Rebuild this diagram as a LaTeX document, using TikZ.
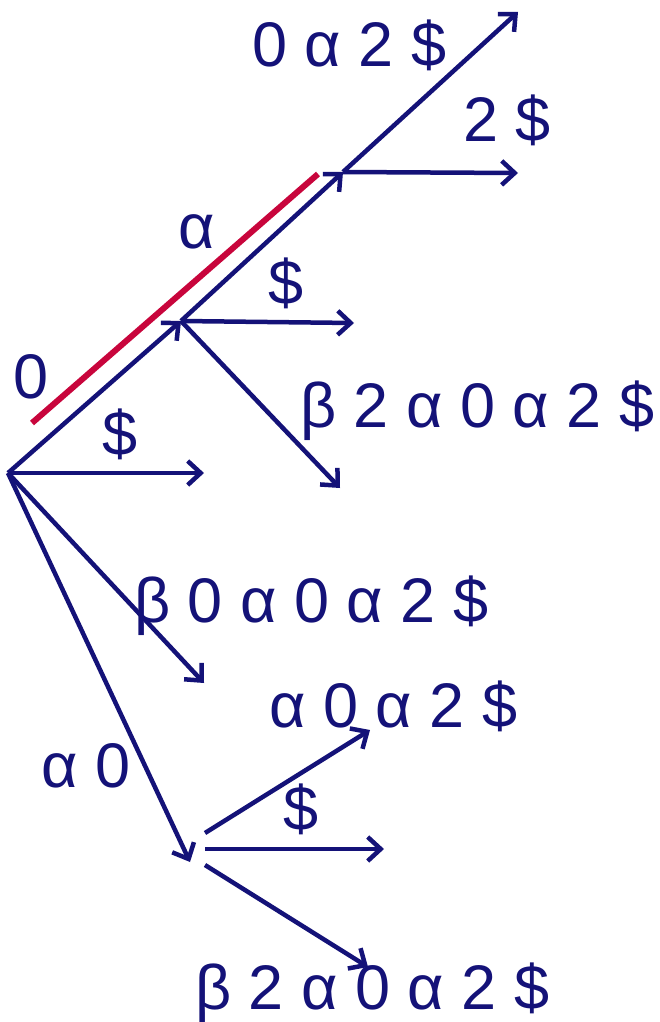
\documentclass[tikz,border=0pt]{standalone}
\usepackage{fontspec}
\setmainfont{Liberation Sans}
\usetikzlibrary{arrows.meta}
\definecolor{navy}{RGB}{20,18,120}
\definecolor{crimson}{RGB}{200,5,60}
\begin{document}
\begin{tikzpicture}[x=1pt,y=-1pt,
  edge/.style={draw=navy, line width=4.5pt, -{Straight Barb[length=13pt,width=24pt]}},
  lbl/.style={anchor=base west, inner sep=0pt, text=navy, font=\fontsize{63}{70}\selectfont}]
\useasboundingbox (0,0) rectangle (659,1022);
% nodes (branch points) and arrow ends
\coordinate (R) at (8,473);
\coordinate (A) at (181,321);
\coordinate (B) at (343,172);
\coordinate (T) at (518,12);
\coordinate (Bh) at (518,173);
\coordinate (Ah) at (354,323);
\coordinate (Ad) at (340,488);
\coordinate (Rh) at (204,473);
\coordinate (Rd) at (204,683);
\coordinate (C) at (190,862);
\coordinate (C1) at (205,833);
\coordinate (C2) at (205,849);
\coordinate (C3) at (205,865);
\coordinate (C1e) at (370,730);
\coordinate (C2e) at (384,849);
\coordinate (C3e) at (368,967);
\coordinate (P1) at (32,423);
\coordinate (P2) at (318,174);
% highlighted path
\draw[crimson, line width=6pt] (P1) -- (P2);
% edges
\draw[edge] (R) -- (A);
\draw[edge] (A) -- (B);
\draw[edge] (B) -- (T);
\draw[edge] (B) -- (Bh);
\draw[edge] (A) -- (Ah);
\draw[edge] (A) -- (Ad);
\draw[edge] (R) -- (Rh);
\draw[edge] (R) -- (Rd);
\draw[edge] (R) -- (C);
\draw[edge] (C1) -- (C1e);
\draw[edge] (C2) -- (C2e);
\draw[edge] (C3) -- (C3e);
% labels
\node[lbl] (l1) at (252,67) {0 α 2 \$};
\node[lbl] (l2) at (463,142) {2 \$};
\node[lbl] (l3) at (178,248) {α};
\node[lbl] (l4) at (268,304) {\$};
\node[lbl] (l5) at (13,398) {0};
\node[lbl] (l6) at (300,427) {β 2 α 0 α 2 \$};
\node[lbl] (l7) at (102,455) {\$};
\node[lbl] (l8) at (134,622) {β 0 α 0 α 2 \$};
\node[lbl] (l9) at (269,727) {α 0 α 2 \$};
\node[lbl] (l10) at (41,787) {α 0};
\node[lbl] (l11) at (283,830) {\$};
\node[lbl] (l12) at (195,1009) {β 2 α 0 α 2 \$};
\end{tikzpicture}
\end{document}
